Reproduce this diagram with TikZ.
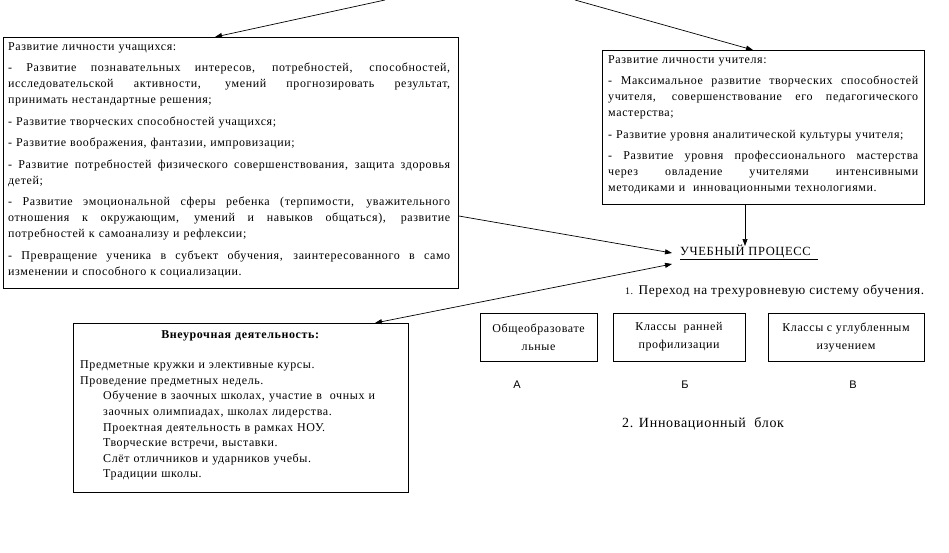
\documentclass[tikz,border=0pt]{standalone}
\usepackage{fontspec}
\setmainfont{Liberation Serif}[LetterSpace=5]
\newfontfamily\labelsans{Liberation Sans}
\usetikzlibrary{arrows.meta}
\newlength{\jw}
\newcommand{\jl}[1]{{\spaceskip=0pt\xspaceskip=0pt\makebox[\jw][s]{#1}}}
\tikzset{
  x=1pt, y=1pt,
  frame/.style={draw, line width=0.8pt, inner sep=0pt},
  boxtext/.style={anchor=north west, inner sep=0pt, align=left,
    font=\fontsize{12}{16}\selectfont},
  arr/.style={-{Triangle[length=7pt,width=5pt]}, line width=0.7pt},
  darr/.style={{Triangle[length=7pt,width=5pt]}-{Triangle[length=7pt,width=5pt]}, line width=0.7pt},
  smallbox/.style={frame, minimum height=48pt, align=center,
    font=\fontsize{12}{18}\selectfont},
  letter/.style={inner sep=0pt, font=\labelsans\fontsize{11}{13}\selectfont},
}
\begin{document}
\begin{tikzpicture}
\path[use as bounding box] (0,0) rectangle (949,-553);

% --- box 1: students
\node[frame, anchor=north west, minimum width=455pt, minimum height=251pt] (b1) at (3,-37) {};
\node[boxtext, text width=442pt] (t1) at (8,-42) {\setlength{\jw}{442pt}%
Развитие личности учащихся:\\[5.5pt]
\jl{- Развитие познавательных интересов, потребностей, способностей,}\\
\jl{исследовательской активности, умений прогнозировать результат,}\\
принимать нестандартные решения;\\[5.5pt]
- Развитие творческих способностей учащихся;\\[5.5pt]
- Развитие воображения, фантазии, импровизации;\\[5.5pt]
\jl{- Развитие потребностей физического совершенствования, защита здоровья}\\
детей;\\[5.5pt]
\jl{- Развитие эмоциональной сферы ребенка (терпимости, уважительного}\\
\jl{отношения к окружающим, умений и навыков общаться), развитие}\\
потребностей к самоанализу и рефлексии;\\[5.5pt]
\jl{- Превращение ученика в субъект обучения, заинтересованного в само}\\
изменении и способного к социализации.};

% --- box 2: teacher
\node[frame, anchor=north west, minimum width=322pt, minimum height=154pt] (b2) at (602,-50) {};
\node[boxtext, text width=310pt] (t2) at (608,-55) {\setlength{\jw}{310pt}%
Развитие личности учителя:\\[5.5pt]
\jl{- Максимальное развитие творческих способностей}\\
\jl{учителя, совершенствование его педагогического}\\
мастерства;\\[5.5pt]
- Развитие уровня аналитической культуры учителя;\\[5.5pt]
\jl{- Развитие уровня профессионального мастерства}\\
\jl{через овладение учителями интенсивными}\\
методиками и\ \ инновационными технологиями.};

% --- box 3: extracurricular
\node[frame, anchor=north west, minimum width=335pt, minimum height=169pt] (b3) at (73,-323) {};
\node[boxtext, text width=320pt, font=\fontsize{12}{15.6}\selectfont] (t3) at (80,-330) {%
\makebox[320pt][c]{\bfseries Внеурочная деятельность:}\\[15pt]
Предметные кружки и элективные курсы.\\
Проведение предметных недель.\\
\hspace*{23pt}Обучение в заочных школах, участие в\ \ очных и\\
\hspace*{23pt}заочных олимпиадах, школах лидерства.\\
\hspace*{23pt}Проектная деятельность в рамках НОУ.\\
\hspace*{23pt}Творческие встречи, выставки.\\
\hspace*{23pt}Слёт отличников и ударников учебы.\\
\hspace*{23pt}Традиции школы.};

% --- learning process
\node[anchor=base west, inner sep=0pt, font=\fontsize{12.5}{14}\selectfont] (up) at (680,-255)
  {\underline{УЧЕБНЫЙ ПРОЦЕСС\ \ }};
\node[anchor=base west, inner sep=0pt, font=\fontsize{13.3}{16}\selectfont] (lvl) at (625,-294)
  {{\fontsize{10}{12}\selectfont 1.} Переход на трехуровневую систему обучения.};

\node[smallbox, minimum width=117pt] (ka) at (538.5,-337) {Общеобразовате\\льные};
\node[smallbox, minimum width=132pt] (kb) at (679,-337) {Классы\ \ ранней\\профилизации};
\node[smallbox, minimum width=156pt] (kc) at (846,-337) {Классы с углубленным\\изучением};

\node[letter] (la) at (517,-385) {А};
\node[letter] (lb) at (685,-385) {Б};
\node[letter] (lc) at (853,-385) {В};

\node[anchor=base west, inner sep=0pt, font=\fontsize{14}{16}\selectfont] (inno) at (622,-427)
  {2. Инновационный\ \ блок};

% --- connectors
\coordinate (c1) at (385,0);
\coordinate (c2) at (575,0);
\draw[arr] (c1) -- ([xshift=212pt]b1.north west);
\draw[arr] (c2) -- ([xshift=151pt]b2.north west);
\draw[arr] ([xshift=143pt]b2.south west) -- ([xshift=65pt,yshift=9pt]up.base west);
\draw[arr] ([yshift=-179pt]b1.north east) -- ([xshift=-8pt,yshift=2pt]up.base west);
\draw[darr] ([xshift=302pt]b3.north west) -- ([xshift=-8pt,yshift=-9pt]up.base west);
\end{tikzpicture}
\end{document}
